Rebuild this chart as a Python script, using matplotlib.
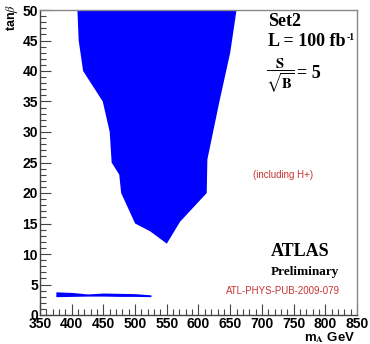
import numpy as np
import matplotlib
matplotlib.use("Agg")
import matplotlib.pyplot as plt
from matplotlib.ticker import MultipleLocator

plt.rcParams['font.family'] = ['Liberation Sans', 'DejaVu Sans']
plt.rcParams['mathtext.fontset'] = 'stix'

# excluded region (mA, tanb) - left edge top->bottom, right edge bottom->top
left_m = [409, 411, 418, 449, 460, 463, 475, 478, 500, 524, 550]
left_tb = [50, 45, 40, 35, 30, 25, 23, 20, 15, 13.7, 11.7]
right_m = [571, 613, 614, 623, 633, 650, 660]
right_tb = [15.3, 20, 25.5, 30, 35, 43, 50]

# low tanb band
band_m = [375, 400, 425, 450, 475, 500, 525]
band_hi = [3.8, 3.7, 3.45, 3.6, 3.55, 3.5, 3.3]
band_lo = [3.0, 3.05, 3.1, 3.1, 3.05, 3.05, 3.0]

W, H = 370, 344
fig = plt.figure(figsize=(3.7, 3.44), dpi=100)
ax = fig.add_axes([40/W, 1-315/H, 317/W, 305/H])

poly_m = left_m + right_m
poly_tb = left_tb + right_tb
ax.fill(poly_m, poly_tb, color='#0000ff', lw=0)
ax.fill_between(band_m, band_lo, band_hi, color='#0000ff', lw=0)

ax.set_xlim(350, 850)
ax.set_ylim(0, 50)
ax.xaxis.set_major_locator(MultipleLocator(50))
ax.xaxis.set_minor_locator(MultipleLocator(10))
ax.yaxis.set_major_locator(MultipleLocator(5))
ax.yaxis.set_minor_locator(MultipleLocator(1))
ax.tick_params(which='both', direction='in', top=False, right=False,
               color='#444444', width=0.8, labelsize=10, pad=1.5)
ax.tick_params(which='major', length=8)
ax.tick_params(which='minor', length=4)
for lab in ax.get_xticklabels() + ax.get_yticklabels():
    lab.set_fontweight('bold')
for s in ax.spines.values():
    s.set_color('#888888')
    s.set_linewidth(1.0)
ax.spines['left'].set_color('#444444')
ax.spines['bottom'].set_color('#444444')

fig.text(12/W, 1-4/H, r'tan$\beta$', rotation=90, ha='center', va='top',
         fontsize=9, fontweight='bold')
fig.text(355/W, 1-338/H, r'm$_{\mathbf{A}}$ GeV', ha='right', va='center',
         fontsize=9.5, fontweight='bold')

serif = 'Liberation Serif'
fig.text(268/W, 1-22/H, 'Set2', family=serif, fontweight='bold', fontsize=13,
         va='center', ha='left')
fig.text(268/W, 1-42/H, 'L = 100 fb', family=serif, fontweight='bold',
         fontsize=13, va='center', ha='left')
fig.text(347/W, 1-37/H, '-1', family=serif, fontweight='bold', fontsize=7,
         va='center', ha='left')
fig.text(266/W, 1-76/H, r'$\mathbf{\dfrac{S}{\sqrt{B}}}$', fontsize=10.5,
         va='center', ha='left')
fig.text(297/W, 1-73/H, '= 5', family=serif, fontweight='bold', fontsize=13,
         va='center', ha='left')
fig.text(283/W, 1-175/H, '(including H+)', color='#cc3333', fontsize=7,
         ha='center', va='center')
fig.text(300/W, 1-251/H, 'ATLAS', family=serif, fontweight='bold', fontsize=13,
         ha='center', va='center')
fig.text(305/W, 1-272/H, 'Preliminary', family=serif, fontweight='bold',
         fontsize=9.5, ha='center', va='center')
fig.text(283/W, 1-291/H, 'ATL-PHYS-PUB-2009-079', color='#cc3333', fontsize=7,
         ha='center', va='center')

fig.savefig('out.png', dpi=100)
